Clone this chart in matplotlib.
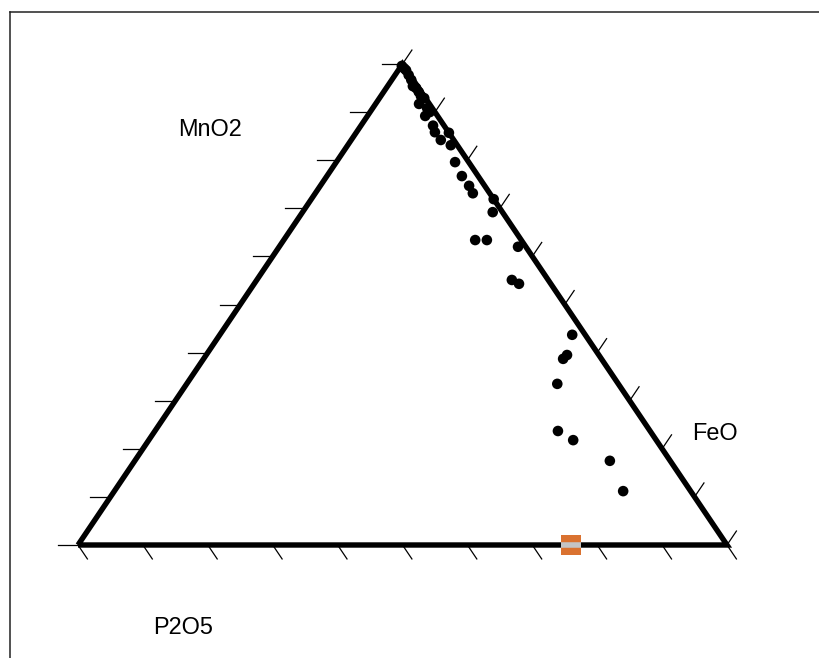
import numpy as np
import matplotlib.pyplot as plt
from matplotlib.lines import Line2D

# composicoes (%), convencao: P2O5 -> vertice direito, FeO -> topo, MnO2 -> esquerdo
feo = [99.6, 99.2, 98.8, 97.7, 96.7, 95.4, 95.0, 94.2, 93.3, 92.9, 91.7, 90.9,
       90.0, 89.2, 87.1, 85.9, 84.2, 85.7, 83.2, 79.6, 76.7, 74.6, 73.2, 71.9,
       69.2, 63.4, 63.4, 62.0, 55.1, 54.3, 43.7, 39.5, 38.7, 33.5, 23.7, 21.8,
       17.5, 11.2]
p2o5 = [0.1, 0.7, 1.2, 2.1, 3.0, 3.9, 4.6, 5.4, 6.2, 6.9, 6.7, 8.4,
        9.2, 8.9, 11.1, 12.1, 13.8, 14.3, 15.9, 18.3, 20.8, 22.9, 24.3, 28.1,
        29.3, 29.5, 31.3, 36.8, 39.3, 40.8, 54.3, 55.6, 55.4, 57.1, 62.1, 65.4,
        73.2, 78.4]
mno2 = [0.3, 0.2, 0.1, 0.2, 0.3, 0.7, 0.4, 0.4, 0.5, 0.2, 1.6, 0.8,
        0.8, 1.9, 1.7, 2.1, 2.0, 0.0, 1.0, 2.1, 2.5, 2.4, 2.6, 0.0,
        1.5, 7.1, 5.3, 1.2, 5.6, 4.9, 2.0, 4.9, 5.9, 9.4, 14.2, 12.8,
        9.3, 10.4]

# ponto de referencia (laranja)
ref_feo = [0.0]
ref_p2o5 = [76.0]
ref_mno2 = [24.0]


def projetar(a, b, c):
    a = np.asarray(a, float)
    b = np.asarray(b, float)
    c = np.asarray(c, float)
    tot = a + b + c
    x = (a + b / 2) / tot
    y = b / tot
    return x, y


fig = plt.figure(figsize=(8.19, 6.58), dpi=100)
W, H = 819, 658
# triangulo: (78,545) (727,545) (402,64) em pixels
ax = fig.add_axes([0, 0, 1, 1])
ax.set_xlim(-78 / 649, (W - 78) / 649)
ax.set_ylim((545 - H) / 481, 545 / 481)
ax.axis('off')

# moldura
fig.add_artist(Line2D([9.5 / W, 9.5 / W], [0, 1 - 11.5 / H], transform=fig.transFigure,
                      color='#222222', lw=1.1))
fig.add_artist(Line2D([9.5 / W, 1], [1 - 11.5 / H, 1 - 11.5 / H], transform=fig.transFigure,
                      color='#222222', lw=1.1))

# bordas
ax.plot([0, 1, 0.5, 0], [0, 0, 1, 0], color='black', lw=3.9, solid_joinstyle='miter',
        solid_capstyle='butt', zorder=2)

# ticks
t = 0.029
for k in range(11):
    f = k / 10
    # base
    ax.plot([f, f + 0.5 * t], [0, -t], color='black', lw=0.9, zorder=1)
    # esquerda
    ax.plot([f / 2, f / 2 - 0.031], [f, f], color='black', lw=0.9, zorder=1)
    # direita
    ax.plot([1 - f / 2, 1 - f / 2 + 0.5 * t], [f, f + t], color='black', lw=0.9, zorder=1)

x, y = projetar(p2o5, feo, mno2)
ax.scatter(x, y, s=58, color='black', edgecolors='none', zorder=3)

rx, ry = projetar(ref_p2o5, ref_feo, ref_mno2)
ax.plot(rx, ry, marker='s', ms=14.4, color='#da7230', mec='#da7230', mew=0, ls='none', zorder=4)
ax.plot(rx, ry, marker='_', ms=14.4, mew=4.0, color='#c4c4c4', ls='none', zorder=5)

fonte = dict(family=['Liberation Sans', 'DejaVu Sans'], fontsize=16.9, ha='center', va='center')
ax.text((210 - 78) / 649, (545 - 130) / 481, 'MnO2', **fonte)
ax.text((715 - 78) / 649, (545 - 433) / 481, 'FeO', **fonte)
ax.text((183 - 78) / 649, (545 - 627) / 481, 'P2O5', **fonte)

fig.savefig('out.png', dpi=100)
